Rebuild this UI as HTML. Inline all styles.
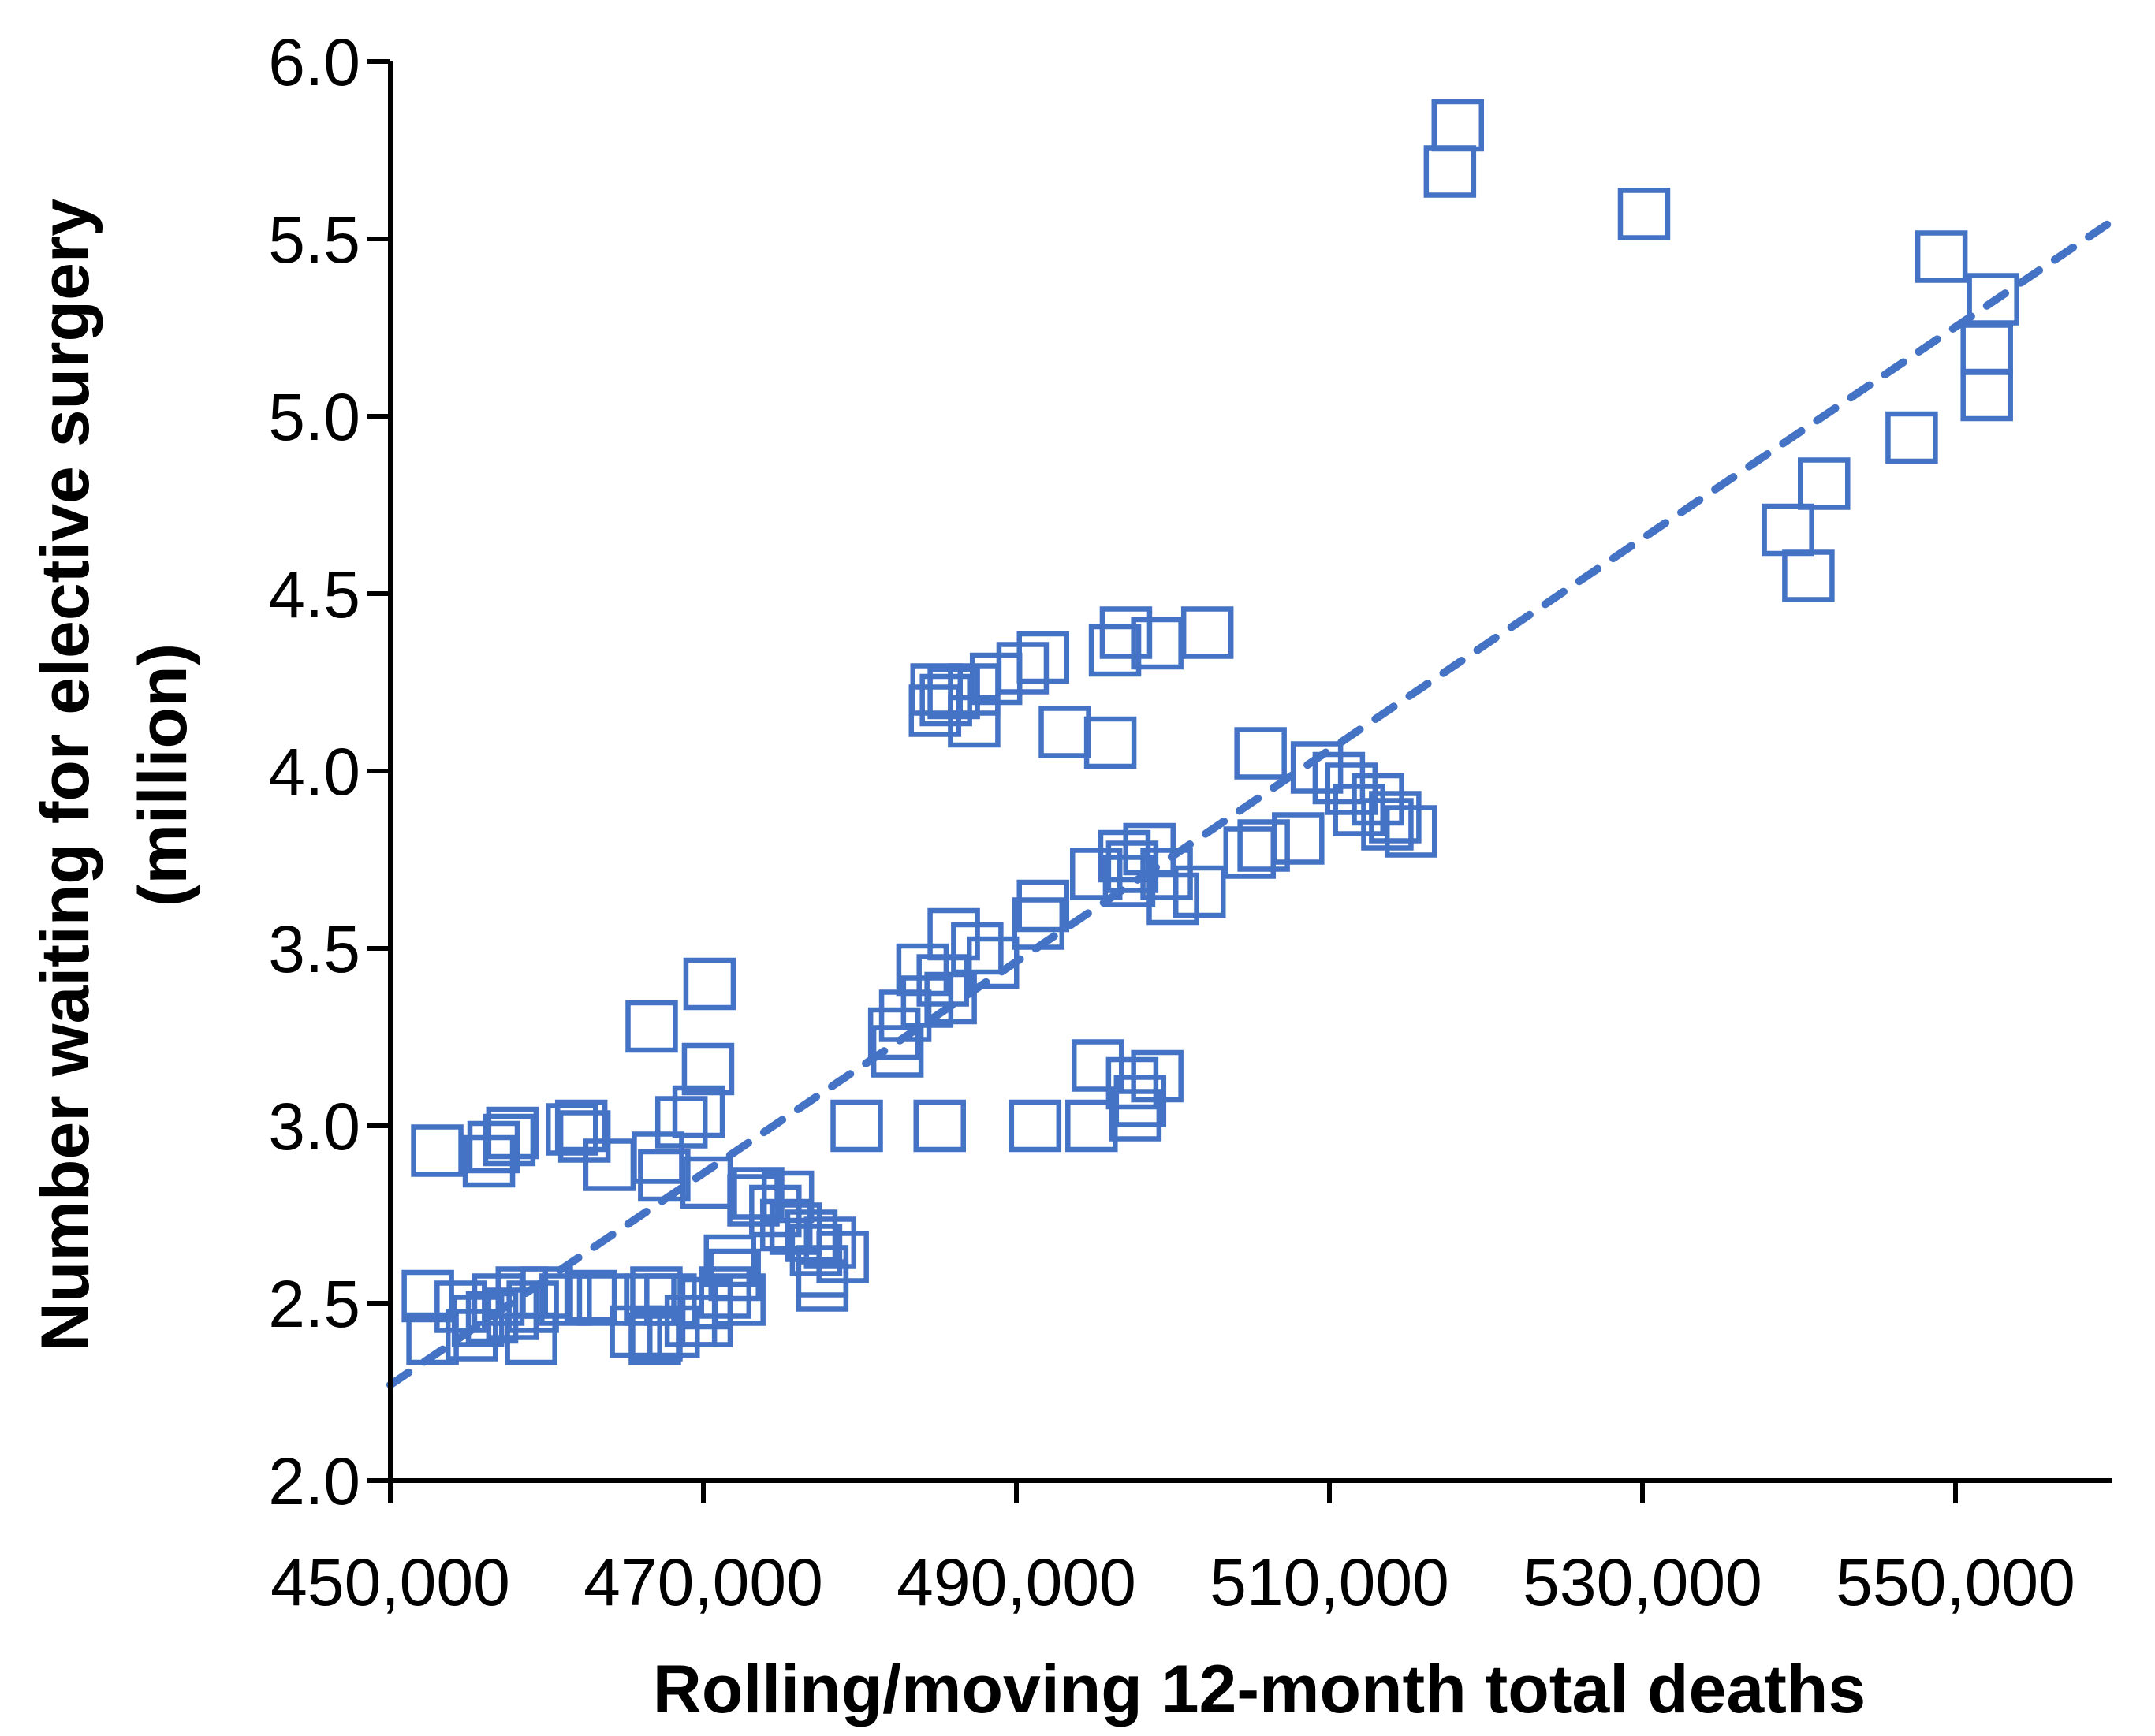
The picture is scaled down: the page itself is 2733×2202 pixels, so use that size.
<!DOCTYPE html>
<html><head><meta charset="utf-8"><style>
html,body{margin:0;padding:0;background:#fff}
svg{display:block}
text{font-family:"Liberation Sans",sans-serif;fill:#000}
</style></head><body>
<svg id="chart" width="2733" height="2202" viewBox="0 0 2733 2202" xmlns="http://www.w3.org/2000/svg">
<g id="grid"></g>
<g id="marks"></g>
<g id="axes"></g>
<text x="1597" y="2172" font-size="86" font-weight="bold" text-anchor="middle">Rolling/moving 12-month total deaths</text>
<text transform="translate(112,983) rotate(-90)" font-size="86" font-weight="bold" text-anchor="middle">Number waiting for elective surgery</text>
<text transform="translate(236,983) rotate(-90)" font-size="86" font-weight="bold" text-anchor="middle">(million)</text>
</svg>
<script>
const xTicks=[450000,470000,490000,510000,530000,550000];
const xTickLabels=["450,000","470,000","490,000","510,000","530,000","550,000"];
const yTicks=[2.0,2.5,3.0,3.5,4.0,4.5,5.0,5.5,6.0];
const yTickLabels=["2.0","2.5","3.0","3.5","4.0","4.5","5.0","5.5","6.0"];
const deaths=[518.2,517.7,530.1,549.1,552.4,552.0,552.0,547.2,541.6,539.3,540.6,
502.2,499.0,497.0,496.3,491.7,490.4,488.7,487.3,486.0,485.5,484.8,484.9,487.3,493.1,496.0,
505.6,509.2,510.6,511.4,513.1,511.9,514.2,513.7,515.2,508.0,505.8,504.9,498.5,496.9,497.4,499.6,495.1,501.7,500.0,497.2,491.7,491.4,487.5,486.0,488.5,484.0,485.3,484.3,485.8,482.9,482.2,482.4,
470.4,466.7,470.3,469.7,468.6,462.2,462.4,461.6,457.8,457.6,456.6,456.3,453.0,464.0,467.1,467.5,470.2,
479.8,485.1,491.2,494.8,495.2,497.4,499.0,497.9,497.6,
473.5,475.4,474.6,475.3,475.9,476.9,478.1,477.2,478.9,477.6,477.6,473.2,
471.7,472.0,471.4,472.3,470.2,469.2,470.2,468.1,467.0,467.9,466.6,467.0,465.7,466.9,463.6,462.8,461.2,460.0,459.1,459.0,457.8,456.9,456.5,455.6,455.2,452.7,452.4,454.5,458.4];
const waiting=[5.82,5.69,5.57,5.45,5.33,5.19,5.06,4.94,4.81,4.68,4.55,
4.39,4.36,4.39,4.34,4.32,4.29,4.26,4.23,4.22,4.20,4.17,4.23,4.14,4.11,4.08,
4.05,4.01,3.98,3.95,3.92,3.89,3.87,3.85,3.83,3.81,3.79,3.77,3.78,3.76,3.73,3.71,3.71,3.66,3.64,3.69,3.62,3.57,3.50,3.54,3.46,3.44,3.41,3.35,3.36,3.31,3.26,3.21,
3.40,3.28,3.16,3.04,3.01,3.00,2.97,2.99,2.98,2.96,2.94,2.90,2.93,2.89,2.91,2.86,2.84,
3.00,3.00,3.00,3.00,3.17,3.12,3.14,3.07,3.03,
2.81,2.80,2.76,2.72,2.71,2.69,2.67,2.65,2.63,2.59,2.55,2.79,
2.62,2.58,2.53,2.51,2.50,2.45,2.45,2.42,2.53,2.51,2.51,2.41,2.42,2.40,2.51,2.52,2.51,2.53,2.49,2.40,2.47,2.51,2.46,2.45,2.41,2.40,2.52,2.49,2.53];
const trendX=[450000,560000];
const trendY=[2.27,5.55];

const NS="http://www.w3.org/2000/svg";
const X0=495,XW=397/20000,Y0=1878,YU=450;
const xs=v=>X0+(v-450000)*XW;
const ys=v=>Y0-(v-2)*YU;
const C="#4472C4";
function mk(tag,attrs,parent){const e=document.createElementNS(NS,tag);for(const k in attrs)e.setAttribute(k,attrs[k]);parent.appendChild(e);return e;}
const marks=document.getElementById('marks'),axes=document.getElementById('axes');
deaths.forEach((d,i)=>{
  const cx=xs(d*1000),cy=ys(waiting[i]);
  const r=mk('rect',{x:cx-30,y:cy-30,width:60,height:60,fill:'none',stroke:C,'stroke-width':6.5},marks);
  
  
});
const tl=mk('line',{x1:xs(trendX[0]),y1:ys(trendY[0]),x2:xs(trendX[1]),y2:ys(trendY[1]),stroke:C,'stroke-width':10,'stroke-dasharray':'28 24','stroke-linecap':'round'},marks);


const xa=mk('line',{x1:X0,y1:Y0,x2:xs(560000),y2:Y0,stroke:'#000','stroke-width':6},axes);


const ya=mk('line',{x1:X0,y1:Y0+3,x2:X0,y2:ys(6),stroke:'#000','stroke-width':6},axes);


yTicks.forEach((v,i)=>{
  const y=ys(v);
  mk('line',{x1:X0-29,y1:y,x2:X0,y2:y,stroke:'#000','stroke-width':6},axes);
  const t=mk('text',{x:X0-38,y:y+30,'font-size':84,'text-anchor':'end'},axes);
  t.textContent=yTickLabels[i];
  
  
});
xTicks.forEach((v,i)=>{
  const x=xs(v);
  mk('line',{x1:x,y1:Y0,x2:x,y2:Y0+29,stroke:'#000','stroke-width':6},axes);
  const t=mk('text',{x:x,y:Y0+158,'font-size':84,'text-anchor':'middle'},axes);
  t.textContent=xTickLabels[i];
  
  
});
</script>
</body></html>
